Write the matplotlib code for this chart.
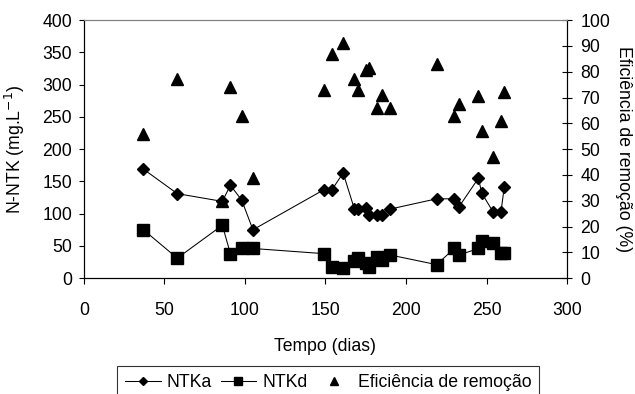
import matplotlib
matplotlib.use('Agg')
import matplotlib.pyplot as plt

plt.rcParams['font.family'] = ['Liberation Sans', 'DejaVu Sans']
plt.rcParams['font.size'] = 12.7

dias = [37, 58, 86, 91, 98, 105, 149, 154, 161, 168, 170, 175, 177, 182,
        185, 190, 219, 230, 233, 245, 247, 254, 259, 261]
ntka = [169, 131, 119, 144, 121, 75, 137, 137, 163, 107, 107, 108, 98, 98,
        98, 107, 123, 123, 111, 155, 132, 103, 103, 141]
ntkd = [75, 31, 82, 38, 46, 46, 38, 18, 15, 27, 31, 23, 18, 33,
        28, 36, 21, 46, 36, 46, 57, 55, 39, 39]
eficiencia = [56, 77, 30, 74, 63, 39, 73, 87, 91, 77, 73, 80.5, 81.5, 66,
              71, 66, 83, 63, 67.5, 70.5, 57, 47, 61, 72]

fig = plt.figure(figsize=(6.35, 3.94), dpi=100)
ax = fig.add_axes([0.132, 0.294, 0.761, 0.655])
ax2 = ax.twinx()

l1, = ax.plot(dias, ntka, color='black', lw=0.75, marker='D', ms=6, label='NTKa')
l2, = ax.plot(dias, ntkd, color='black', lw=0.75, marker='s', ms=8, label='NTKd')
l3, = ax2.plot(dias, eficiencia, color='black', ls='none', marker='^', ms=8,
               label='Eficiência de remoção')

ax.set_xlim(0, 300)
ax.set_ylim(0, 400)
ax2.set_ylim(0, 100)
ax.set_xticks(range(0, 301, 50))
ax.set_yticks(range(0, 401, 50))
ax2.set_yticks(range(0, 101, 10))

ax.set_xlabel('Tempo (dias)', labelpad=14)
ax.set_ylabel('N-NTK (mg.L$^{-1}$)', labelpad=11)
ax2.set_ylabel('Eficiência de remoção (%)', rotation=270, labelpad=16)

for a in (ax, ax2):
    a.spines['top'].set_color('#808080')
    a.spines['left'].set_color('black')
    a.spines['bottom'].set_color('black')
    a.spines['right'].set_color('black')
ax.tick_params(axis='y', direction='out', length=3.5, pad=5)
ax.tick_params(axis='x', direction='out', length=4, pad=13)
ax2.tick_params(axis='y', direction='inout', length=7, pad=6)

leg = fig.legend([l1, l2, l3], ['NTKa', 'NTKd', 'Eficiência de remoção'],
                 loc='upper center', bbox_to_anchor=(0.517, 0.071), ncol=3,
                 frameon=True, fancybox=False, edgecolor='black',
                 handlelength=2.0, columnspacing=0.5, handletextpad=0.35,
                 markerscale=0.75, borderpad=0.45, borderaxespad=0)
leg.get_frame().set_linewidth(0.8)

fig.savefig('out.png', dpi=100)
